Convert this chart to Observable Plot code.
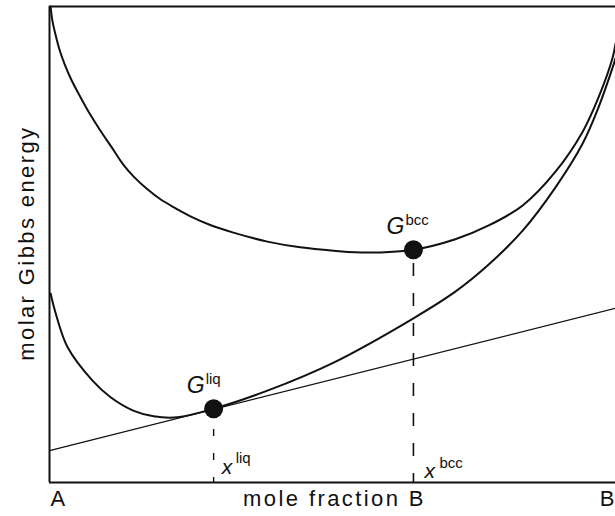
<!DOCTYPE html>
<html>
<head>
<meta charset="utf-8">
<script src="https://cdn.jsdelivr.net/npm/d3@7"></script>
<script src="https://cdn.jsdelivr.net/npm/@observablehq/plot@0.6"></script>
<style>
  html, body { margin: 0; padding: 0; background: #fff; }
</style>
</head>
<body>
<div id="chart"></div>
<script>
// Molar Gibbs energy curves of the bcc and liquid phases in an A–B binary,
// with the tangent drawn at the liquid composition.

// bcc phase: mole fraction B and molar Gibbs energy (arbitrary units)
const bccX = [0.002, 0.005, 0.011, 0.018, 0.027, 0.039, 0.055, 0.072, 0.090, 0.110,
              0.129, 0.150, 0.173, 0.196, 0.223, 0.249, 0.284, 0.325, 0.385, 0.443,
              0.502, 0.562, 0.643, 0.717, 0.776, 0.836, 0.894, 0.942, 0.970, 0.995,
              1.000];
const bccG = [100, 97.1, 93.9, 90.8, 87.8, 84.5, 80.9, 77.3, 73.9, 70.4,
              67.0, 64.1, 61.6, 59.5, 57.6, 55.9, 54.1, 52.5, 50.6, 49.4,
              48.7, 48.3, 48.9, 51.1, 54.0, 58.2, 65.3, 73.7, 80.9, 89.3,
              92.2];

// liquid phase
const liqX = [0.002, 0.011, 0.032, 0.076, 0.108, 0.148, 0.184, 0.226, 0.290, 0.385,
              0.502, 0.643, 0.717, 0.776, 0.836, 0.894, 0.942, 0.970, 0.995, 1.000];
const liqG = [39.7, 35.5, 28.4, 21.4, 17.9, 15.1, 13.9, 13.7, 15.5, 19.3,
              25.2, 34.5, 40.1, 45.8, 52.9, 62.0, 71.2, 78.8, 87.2, 89.1];

// tangent line at the liquid point
const tangentX = [0, 1];
const tangentG = [6.7, 36.6];

// marked compositions on each curve
const pointPhase = ["liq", "bcc"];
const pointX = [0.290, 0.643];
const pointG = [15.5, 48.9];

// axis text
const tickLabels = ["A", "B"];
const xTitle = "mole fraction B";
const yTitle = "molar Gibbs energy";

const bcc = bccX.map((x, i) => ({x, g: bccG[i]}));
const liq = liqX.map((x, i) => ({x, g: liqG[i]}));
const tangent = tangentX.map((x, i) => ({x, g: tangentG[i]}));
const points = pointPhase.map((phase, i) => ({phase, x: pointX[i], g: pointG[i]}));
const liqPoint = points.filter(d => d.phase === "liq");
const bccPoint = points.filter(d => d.phase === "bcc");

const ink = "#111";
const font = "'Liberation Sans', Arial, Helvetica, sans-serif";

const chart = Plot.plot({
  width: 615,
  height: 516,
  marginLeft: 49,
  marginRight: 0,
  marginTop: 6,
  marginBottom: 34,
  x: {domain: [0, 1], axis: null},
  y: {domain: [0, 100], axis: null},
  style: {fontFamily: font, background: "#fff", color: ink, overflow: "visible"},
  marks: [
    // frame: left, top and bottom edges
    Plot.ruleX([0], {stroke: ink, strokeWidth: 2}),
    Plot.ruleY([0], {stroke: ink, strokeWidth: 2}),
    Plot.ruleY([100], {stroke: ink, strokeWidth: 2}),

    // drop lines from the marked points to the composition axis
    Plot.ruleX(bccPoint, {
      x: "x", y1: 0, y2: "g", stroke: ink, strokeWidth: 1.6, strokeDasharray: "13,17", strokeDashoffset: 4
    }),
    Plot.ruleX(liqPoint, {
      x: "x", y1: 0, y2: "g", stroke: ink, strokeWidth: 1.4, strokeDasharray: "7,17", strokeDashoffset: 2
    }),

    // tangent line
    Plot.line(tangent, {x: "x", y: "g", stroke: ink, strokeWidth: 1.2}),

    // Gibbs energy curves
    Plot.line(bcc, {x: "x", y: "g", curve: "catmull-rom", stroke: ink, strokeWidth: 2}),
    Plot.line(liq, {x: "x", y: "g", curve: "catmull-rom", stroke: ink, strokeWidth: 2}),

    // marked points
    Plot.dot(points, {x: "x", y: "g", r: 9.5, fill: ink, stroke: "none"}),

    // G labels with phase superscripts
    Plot.text(points, {
      x: "x", y: "g", text: () => "G", textAnchor: "start", lineAnchor: "bottom",
      dx: -27, dy: -16, fontSize: 23, fontStyle: "italic", fill: ink
    }),
    Plot.text(points, {
      x: "x", y: "g", text: "phase", textAnchor: "start", lineAnchor: "bottom",
      dx: -8, dy: -25, fontSize: 15, fill: ink
    }),

    // x labels on the composition axis
    Plot.text(liqPoint, {
      x: "x", y: 0, text: () => "x", textAnchor: "start", lineAnchor: "bottom",
      dx: 8, dy: -9, fontSize: 21, fontStyle: "italic", fill: ink
    }),
    Plot.text(liqPoint, {
      x: "x", y: 0, text: "phase", textAnchor: "start", lineAnchor: "bottom",
      dx: 22, dy: -20, fontSize: 15, fill: ink
    }),
    Plot.text(bccPoint, {
      x: "x", y: 0, text: () => "x", textAnchor: "start", lineAnchor: "bottom",
      dx: 11, dy: -5, fontSize: 21, fontStyle: "italic", fill: ink
    }),
    Plot.text(bccPoint, {
      x: "x", y: 0, text: "phase", textAnchor: "start", lineAnchor: "bottom",
      dx: 26, dy: -15, fontSize: 15, fill: ink
    }),

    // end-member labels
    Plot.text([tickLabels[0]], {
      x: 0, y: 0, text: d => d, textAnchor: "start", lineAnchor: "bottom",
      dx: 1, dy: 23, fontSize: 22, fill: ink
    }),
    Plot.text([tickLabels[1]], {
      x: 1, y: 0, text: d => d, textAnchor: "end", lineAnchor: "bottom",
      dx: -1, dy: 23, fontSize: 22, fill: ink
    }),

    // axis titles
    Plot.text([xTitle], {
      x: 0.5035, y: 0, text: d => d, textAnchor: "middle", lineAnchor: "bottom",
      dy: 23, fontSize: 22, fill: ink
    }),
    Plot.text([yTitle], {
      x: 0, y: 50.3, text: d => d, rotate: -90, textAnchor: "middle", lineAnchor: "bottom",
      dx: -16, fontSize: 22, fill: ink
    })
  ]
});

// wider tracking on the axis titles
chart.querySelectorAll("text").forEach(t => {
  const s = t.textContent;
  if (s === xTitle || s === yTitle) t.setAttribute("letter-spacing", "2.4");
});

document.getElementById("chart").appendChild(chart);
</script>
</body>
</html>
